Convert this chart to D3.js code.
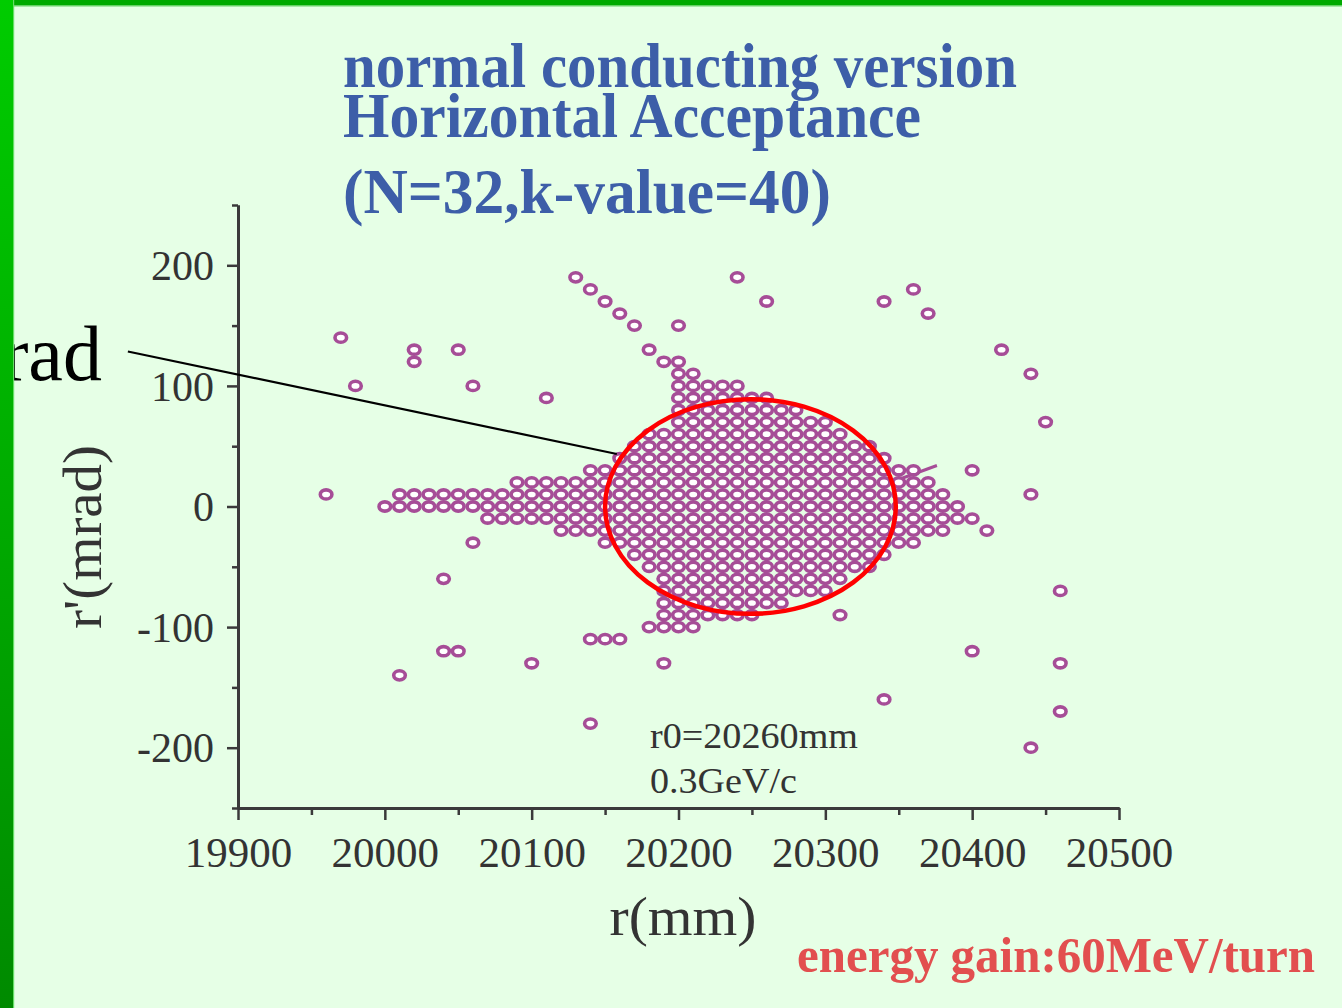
<!DOCTYPE html>
<html><head><meta charset="utf-8">
<script src="https://cdn.jsdelivr.net/npm/d3@7"></script>
<style>html,body{margin:0;padding:0;background:#e6ffe6;overflow:hidden}</style>
</head><body>
<script>
// ---------- data ----------
const xTickValues = [19900, 20000, 20100, 20200, 20300, 20400, 20500];
const xMinorTicks = [19950, 20050, 20150, 20250, 20350, 20450];
const yTickValues = [-200, -100, 0, 100, 200];
const yMinorTicks = [-250, -150, -50, 50, 150, 250];

// dense accepted lattice: one row per r' value (mrad), r from rowStart to rowEnd every 10 mm
const rowY     = [130, 120, 110, 100, 90, 80, 70, 60, 50, 40, 30, 20, 10, 0, -10, -20, -30, -40, -50, -60, -70, -80, -90, -100, -110];
const rowStart = [20180, 20190, 20200, 20200, 20200, 20200, 20200, 20180, 20170, 20160, 20140, 20090, 20010, 20000, 20070, 20120, 20150, 20170, 20180, 20190, 20190, 20190, 20190, 20180, 20140];
const rowEnd   = [20180, 20200, 20210, 20240, 20260, 20280, 20300, 20310, 20330, 20340, 20360, 20370, 20380, 20390, 20400, 20380, 20360, 20340, 20330, 20310, 20300, 20270, 20250, 20210, 20160];
const latticeStep = 10;

// scattered particles
const outR = [20130, 20140, 20150, 20160, 20170, 20200, 20240, 20260, 20340, 20360, 20370, 20420, 20440, 20450, 20400, 20440,
              19970, 19980, 20020, 20020, 20050, 20060, 20110, 19960,
              20060, 20040, 20040, 20050, 20010, 20100, 20140, 20190, 20310, 20340, 20400, 20440, 20460, 20460, 20460, 20410];
const outY = [190, 180, 170, 160, 150, 150, 190, 170, 170, 180, 160, 130, 110, 70, 30, 10,
              140, 100, 130, 120, 130, 100, 90, 10,
              -30, -60, -120, -120, -140, -130, -180, -130, -90, -160, -120, -200, -70, -130, -170, -20];

// acceptance ellipse (centre r, centre r', half-widths)
const ellipseR = [20249, 0, 99, 89];
// annotation line ends (r, r')
const pointerLine = [[19825, 128.5], [20158, 43.5]];
const smallMark = [[20349, 22], [20376, 34]];

const titleLines = ["normal conducting version", "Horizontal Acceptance", "(N=32,k-value=40)"];
const noteLines = ["r0=20260mm", "0.3GeV/c"];

// ---------- drawing ----------
const W = 1342, H = 1008;
const svg = d3.select("body").append("svg").attr("width", W).attr("height", H);
const defs = svg.append("defs");
const lg = defs.append("linearGradient").attr("id", "lg").attr("x1", 0).attr("y1", 0).attr("x2", 0).attr("y2", 1);
lg.append("stop").attr("offset", 0).attr("stop-color", "#00cc00");
lg.append("stop").attr("offset", 1).attr("stop-color", "#008a00");

svg.append("rect").attr("width", W).attr("height", H).attr("fill", "#e6ffe6");

const x = d3.scaleLinear().domain([19900, 20500]).range([238, 1119]);
const y = d3.scaleLinear().domain([-250, 250]).range([808, 205]);

const serif = "'Liberation Serif','Times New Roman',serif";
const axisColor = "#3a3a3a";

// title
const titleBase = [87, 137, 213];
const titleLen = [674, 578, 488];
svg.selectAll("text.title").data(titleLines).join("text")
  .attr("class", "title")
  .attr("x", 343).attr("y", (d, i) => titleBase[i])
  .attr("textLength", (d, i) => titleLen[i]).attr("lengthAdjust", "spacingAndGlyphs")
  .attr("font-family", serif).attr("font-weight", "bold").attr("font-size", 64)
  .attr("fill", "#3d5ea8").text(d => d);

// axes
function styleAxis(g) {
  g.select(".domain").attr("stroke", axisColor).attr("stroke-width", 3);
  g.selectAll(".tick line").attr("stroke", axisColor).attr("stroke-width", 2.5);
}
const fmt = d => String(d);
const gxMinor = svg.append("g").attr("transform", "translate(0,808)")
  .call(d3.axisBottom(x).tickValues(xMinorTicks).tickSize(7).tickSizeOuter(0).tickFormat(""));
styleAxis(gxMinor);
const gx = svg.append("g").attr("transform", "translate(0,808)")
  .call(d3.axisBottom(x).tickValues(xTickValues).tickSize(12).tickSizeOuter(0).tickFormat(fmt));
styleAxis(gx);
gx.selectAll(".tick text").attr("y", 59).attr("dy", 0)
  .attr("font-family", serif).attr("font-size", 43).attr("fill", "#333");

const gyMinor = svg.append("g").attr("transform", "translate(238,0)")
  .call(d3.axisLeft(y).tickValues(yMinorTicks).tickSize(6).tickSizeOuter(0).tickFormat(""));
styleAxis(gyMinor);
const gy = svg.append("g").attr("transform", "translate(238,0)")
  .call(d3.axisLeft(y).tickValues(yTickValues).tickSize(11).tickSizeOuter(0).tickFormat(fmt));
styleAxis(gy);
gy.selectAll(".tick text").attr("x", -24).attr("dy", "0.34em")
  .attr("font-family", serif).attr("font-size", 42).attr("fill", "#333");

// axis titles
svg.append("text").attr("x", 683).attr("y", 935).attr("text-anchor", "middle")
  .attr("font-family", serif).attr("font-size", 55).attr("fill", "#333")
  .attr("textLength", 147).attr("lengthAdjust", "spacingAndGlyphs").text("r(mm)");
svg.append("text").attr("transform", "translate(101,537) rotate(-90)").attr("text-anchor", "middle")
  .attr("font-family", serif).attr("font-size", 55).attr("fill", "#333")
  .attr("textLength", 184).attr("lengthAdjust", "spacingAndGlyphs").text("r'(mrad)");

// lattice points
const lattice = [];
rowY.forEach((ry, i) => {
  for (let r = rowStart[i]; r <= rowEnd[i]; r += latticeStep) lattice.push({ r: r, p: ry });
});
const scatter = outR.map((r, i) => ({ r: r, p: outY[i] }));
const allPts = lattice.concat(scatter);

const markColor = "#a64d97";
svg.append("line")
  .attr("x1", x(smallMark[0][0])).attr("y1", y(smallMark[0][1]))
  .attr("x2", x(smallMark[1][0])).attr("y2", y(smallMark[1][1]))
  .attr("stroke", markColor).attr("stroke-width", 3);

svg.append("g").selectAll("ellipse").data(allPts).join("ellipse")
  .attr("cx", d => x(d.r)).attr("cy", d => y(d.p))
  .attr("rx", 5.8).attr("ry", 4.6)
  .attr("fill", "#ffffff").attr("stroke", markColor).attr("stroke-width", 3.6);

// acceptance ellipse
svg.append("ellipse")
  .attr("cx", x(ellipseR[0])).attr("cy", y(ellipseR[1]))
  .attr("rx", x(ellipseR[0] + ellipseR[2]) - x(ellipseR[0]))
  .attr("ry", y(ellipseR[1]) - y(ellipseR[1] + ellipseR[3]))
  .attr("fill", "none").attr("stroke", "#ff0000").attr("stroke-width", 4.5);

// pointer line
svg.append("line")
  .attr("x1", x(pointerLine[0][0])).attr("y1", y(pointerLine[0][1]))
  .attr("x2", x(pointerLine[1][0])).attr("y2", y(pointerLine[1][1]))
  .attr("stroke", "#000").attr("stroke-width", 2.2);

// notes
svg.selectAll("text.note").data(noteLines).join("text").attr("class", "note")
  .attr("x", 650).attr("y", (d, i) => [748, 793][i])
  .attr("textLength", (d, i) => [208, 147][i]).attr("lengthAdjust", "spacingAndGlyphs")
  .attr("font-family", serif).attr("font-size", 35).attr("fill", "#333").text(d => d);

svg.append("text").attr("x", 797).attr("y", 972)
  .attr("textLength", 518).attr("lengthAdjust", "spacingAndGlyphs")
  .attr("font-family", serif).attr("font-weight", "bold").attr("font-size", 50)
  .attr("fill", "#e24f4f").text("energy gain:60MeV/turn");

// clipped "rad" label
svg.append("text").attr("x", 102).attr("y", 380).attr("text-anchor", "end")
  .attr("font-family", serif).attr("font-size", 78).attr("fill", "#000").text("rad");

// frame
svg.append("rect").attr("x", 0).attr("y", 0).attr("width", W).attr("height", 5).attr("fill", "#00aa00");
svg.append("rect").attr("x", 0).attr("y", 5).attr("width", W).attr("height", 1.5).attr("fill", "#66d166");
svg.append("rect").attr("x", 0).attr("y", 0).attr("width", 13).attr("height", H).attr("fill", "url(#lg)");
svg.append("rect").attr("x", 13).attr("y", 0).attr("width", 1.2).attr("height", H).attr("fill", "#66dd66");
</script>
</body></html>
